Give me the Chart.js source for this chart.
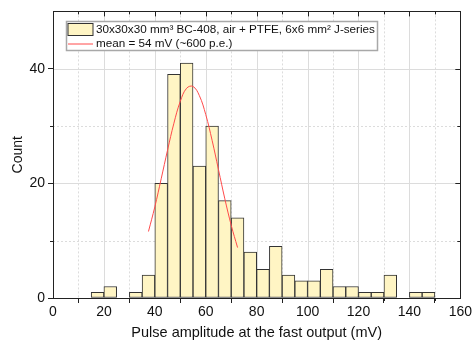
<!DOCTYPE html>
<html>
<head>
<meta charset="utf-8">
<script src="https://cdn.jsdelivr.net/npm/chart.js@4.4.1/dist/chart.umd.min.js"></script>
<style>
  html, body { margin: 0; padding: 0; background: #fff; }
  #wrap { width: 473px; height: 342px; }
</style>
</head>
<body>
<div id="wrap"><canvas id="chart" width="473" height="342"></canvas></div>
<script>
// histogram bins (5 mV wide), centres and counts
const binCenters = [17.5, 22.5, 27.5, 32.5, 37.5, 42.5, 47.5, 52.5, 57.5, 62.5, 67.5, 72.5, 77.5, 82.5,
  87.5, 92.5, 97.5, 102.5, 107.5, 112.5, 117.5, 122.5, 127.5, 132.5, 137.5, 142.5, 147.5];
const counts = [1, 2, 0, 1, 4, 20, 39, 41, 23, 30, 17, 14, 8, 5,
  9, 4, 3, 3, 5, 2, 2, 1, 1, 4, 0, 1, 1];

// red fit curve
const fitX = [37.5, 40, 42.5, 45, 47.5, 50, 52.5, 55, 57.5, 60, 62.5, 65, 67.5, 70, 72.5];
const fitY = [11.6, 15.9, 20.8, 25.8, 30.5, 34.3, 36.6, 36.9, 35.3, 32.0, 27.5, 22.4, 17.3, 12.7, 8.8];

const xMajor = [0, 20, 40, 60, 80, 100, 120, 140, 160];
const xMinor = [10, 30, 50, 70, 90, 110, 130, 150];
const yMajor = [0, 20, 40];
const yMinor = [10, 30];

const histLabel = '30x30x30 mm\u00B3 BC-408, air + PTFE, 6x6 mm\u00B2 J-series';
const fitLabel = 'mean = 54 mV (~600 p.e.)';

const FONT = '"Liberation Sans", Arial, sans-serif';

// grid lines (solid for major, dotted for minor), frame, extra ticks and the legend box
const decorPlugin = {
  id: 'decor',
  beforeDatasetsDraw(chart) {
    const { ctx, chartArea: a, scales: { x, y } } = chart;
    ctx.save();
    ctx.lineWidth = 1;
    ctx.strokeStyle = '#dcdcdc';
    ctx.setLineDash([]);
    xMajor.slice(1, -1).forEach(v => {
      const px = Math.round(x.getPixelForValue(v)) + 0.5;
      ctx.beginPath(); ctx.moveTo(px, a.top); ctx.lineTo(px, a.bottom); ctx.stroke();
    });
    yMajor.slice(1).forEach(v => {
      const py = Math.round(y.getPixelForValue(v)) + 0.5;
      ctx.beginPath(); ctx.moveTo(a.left, py); ctx.lineTo(a.right, py); ctx.stroke();
    });
    ctx.setLineDash([2, 2]);
    xMinor.forEach(v => {
      const px = Math.round(x.getPixelForValue(v)) + 0.5;
      ctx.beginPath(); ctx.moveTo(px, a.top); ctx.lineTo(px, a.bottom); ctx.stroke();
    });
    yMinor.forEach(v => {
      const py = Math.round(y.getPixelForValue(v)) + 0.5;
      ctx.beginPath(); ctx.moveTo(a.left, py); ctx.lineTo(a.right, py); ctx.stroke();
    });
    ctx.restore();
  },
  afterDraw(chart) {
    const { ctx, chartArea: a, scales: { x, y } } = chart;
    ctx.save();
    ctx.strokeStyle = '#222';
    ctx.lineWidth = 1;
    // frame
    ctx.strokeRect(Math.round(a.left) + 0.5, Math.round(a.top) + 0.5,
      Math.round(a.right - a.left), Math.round(a.bottom - a.top));
    // minor ticks bottom, ticks on top edge
    xMinor.forEach(v => {
      const px = Math.round(x.getPixelForValue(v)) + 0.5;
      ctx.beginPath(); ctx.moveTo(px, a.bottom); ctx.lineTo(px, a.bottom + 3); ctx.stroke();
      ctx.beginPath(); ctx.moveTo(px, a.top); ctx.lineTo(px, a.top + 3); ctx.stroke();
    });
    xMajor.forEach(v => {
      const px = Math.round(x.getPixelForValue(v)) + 0.5;
      ctx.beginPath(); ctx.moveTo(px, a.top); ctx.lineTo(px, a.top + 5); ctx.stroke();
    });
    yMinor.forEach(v => {
      const py = Math.round(y.getPixelForValue(v)) + 0.5;
      ctx.beginPath(); ctx.moveTo(a.left - 3, py); ctx.lineTo(a.left, py); ctx.stroke();
      ctx.beginPath(); ctx.moveTo(a.right - 3, py); ctx.lineTo(a.right, py); ctx.stroke();
    });
    yMajor.forEach(v => {
      const py = Math.round(y.getPixelForValue(v)) + 0.5;
      ctx.beginPath(); ctx.moveTo(a.right - 5, py); ctx.lineTo(a.right, py); ctx.stroke();
    });

    // legend
    const lx = Math.round(a.left) + 13.5, ly = Math.round(a.top) + 10.5;
    const lw = 311, lh = 29;
    ctx.fillStyle = '#fff';
    ctx.fillRect(lx, ly, lw, lh);
    ctx.strokeStyle = '#a8a8a8';
    ctx.lineWidth = 1.5;
    ctx.strokeRect(lx, ly, lw, lh);
    ctx.fillStyle = '#fff5c4';
    ctx.fillRect(lx + 1.5, ly + 2, 25, 12);
    ctx.strokeStyle = '#333';
    ctx.lineWidth = 1;
    ctx.strokeRect(lx + 1.5, ly + 2, 25, 12);
    ctx.strokeStyle = '#ff4a4a';
    ctx.beginPath(); ctx.moveTo(lx + 1.5, ly + 22.5); ctx.lineTo(lx + 26.5, ly + 22.5); ctx.stroke();
    ctx.fillStyle = '#111';
    ctx.font = '11.7px ' + FONT;
    ctx.textBaseline = 'middle';
    ctx.textAlign = 'left';
    ctx.fillText(histLabel, lx + 29.5, ly + 8);
    ctx.fillText(fitLabel, lx + 29.5, ly + 22.5);
    ctx.restore();
  }
};

new Chart(document.getElementById('chart'), {
  type: 'bar',
  data: {
    datasets: [
      {
        type: 'bar',
        label: histLabel,
        data: binCenters.map((c, i) => ({ x: c, y: counts[i] })),
        backgroundColor: '#fff5c4',
        borderColor: '#333',
        borderWidth: 1,
        borderSkipped: false,
        barPercentage: 1,
        categoryPercentage: 1,
        order: 2
      },
      {
        type: 'line',
        label: fitLabel,
        data: fitX.map((v, i) => ({ x: v, y: fitY[i] })),
        borderColor: '#ff4a4a',
        borderWidth: 1,
        pointRadius: 0,
        tension: 0.4,
        fill: false,
        order: 1
      }
    ]
  },
  options: {
    responsive: false,
    animation: false,
    layout: { padding: { top: 8, right: 10, left: 0, bottom: 0 } },
    plugins: {
      legend: { display: false },
      tooltip: { enabled: false }
    },
    scales: {
      x: {
        type: 'linear',
        min: 0,
        max: 160,
        offset: false,
        afterFit: s => { s.height = 44; },
        afterBuildTicks: s => { s.ticks = xMajor.map(v => ({ value: v })); },
        ticks: { color: '#111', font: { family: FONT, size: 14 }, padding: 1, maxRotation: 0 },
        grid: { drawOnChartArea: false, drawTicks: true, tickLength: 5, tickColor: '#222' },
        border: { color: '#222' },
        title: {
          display: true,
          text: 'Pulse amplitude at the fast output (mV)',
          color: '#111',
          font: { family: FONT, size: 14.5 },
          padding: { top: 2, bottom: 0 }
        }
      },
      y: {
        min: 0,
        max: 50,
        afterFit: s => { s.width = 53; },
        afterBuildTicks: s => { s.ticks = yMajor.map(v => ({ value: v })); },
        ticks: { color: '#111', font: { family: FONT, size: 14 }, padding: 3 },
        grid: { drawOnChartArea: false, drawTicks: true, tickLength: 5, tickColor: '#222' },
        border: { color: '#222' },
        title: {
          display: true,
          text: 'Count',
          color: '#111',
          font: { family: FONT, size: 14 },
          padding: { top: 10, bottom: 4 }
        }
      }
    }
  },
  plugins: [decorPlugin]
});
</script>
</body>
</html>
